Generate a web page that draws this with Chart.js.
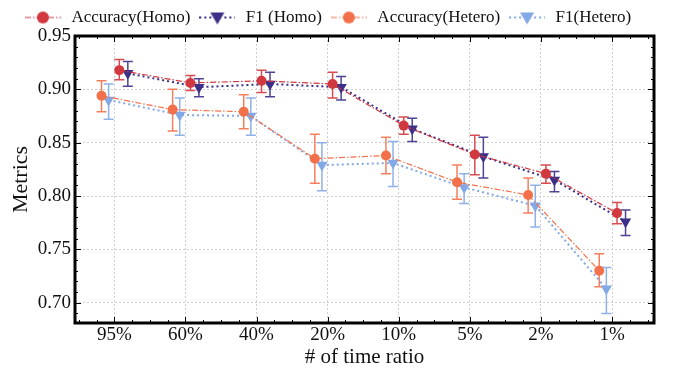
<!DOCTYPE html>
<html>
<head>
<meta charset="utf-8">
<script src="https://cdn.jsdelivr.net/npm/chart.js@4"></script>
<style>
  html, body { margin: 0; padding: 0; background: #fff; }
  #wrap { width: 686px; height: 372px; }
</style>
</head>
<body>
<div id="wrap"><canvas id="metricsChart"></canvas></div>
<script>
const categories = ['95%', '60%', '40%', '20%', '10%', '5%', '2%', '1%'];
const yTicks = [0.70, 0.75, 0.80, 0.85, 0.90, 0.95];

const accHomo   = [0.918, 0.906, 0.908, 0.905, 0.866, 0.839, 0.821, 0.784];
const accHomoHi = [0.928, 0.913, 0.918, 0.916, 0.874, 0.857, 0.829, 0.794];
const accHomoLo = [0.909, 0.899, 0.897, 0.892, 0.858, 0.820, 0.812, 0.774];

const f1Homo   = [0.915, 0.902, 0.905, 0.902, 0.863, 0.837, 0.815, 0.776];
const f1HomoHi = [0.926, 0.910, 0.916, 0.912, 0.873, 0.855, 0.823, 0.787];
const f1HomoLo = [0.903, 0.893, 0.893, 0.890, 0.851, 0.817, 0.804, 0.763];

const accHetero   = [0.894, 0.881, 0.879, 0.835, 0.838, 0.813, 0.801, 0.730];
const accHeteroHi = [0.908, 0.900, 0.895, 0.858, 0.855, 0.829, 0.817, 0.746];
const accHeteroLo = [0.879, 0.861, 0.863, 0.812, 0.821, 0.797, 0.784, 0.715];

const f1Hetero   = [0.890, 0.876, 0.875, 0.829, 0.831, 0.808, 0.791, 0.713];
const f1HeteroHi = [0.905, 0.892, 0.892, 0.850, 0.851, 0.821, 0.810, 0.733];
const f1HeteroLo = [0.872, 0.857, 0.857, 0.805, 0.809, 0.793, 0.771, 0.690];

const FONT = "'Liberation Serif', 'DejaVu Serif', serif";

// small legend sample: line + marker
function legendSample(color, dash, lineWidth, marker) {
    const c = document.createElement('canvas');
    c.width = 36; c.height = 16;
    const ctx = c.getContext('2d');
    ctx.strokeStyle = color;
    ctx.lineWidth = lineWidth;
    ctx.setLineDash(dash);
    ctx.beginPath();
    ctx.moveTo(0, 8); ctx.lineTo(36, 8);
    ctx.stroke();
    ctx.setLineDash([]);
    ctx.fillStyle = color;
    ctx.beginPath();
    if (marker === 'circle') {
        ctx.arc(18, 8, 6, 0, Math.PI * 2);
    } else {
        ctx.moveTo(11, 3); ctx.lineTo(25, 3); ctx.lineTo(18, 15);
        ctx.closePath();
    }
    ctx.fill();
    return c;
}

function series(label, values, hi, lo, offset, color, dash, lineWidth, marker) {
    return {
        label: label,
        data: values.map((v, i) => ({x: i + offset, y: v})),
        errHi: hi,
        errLo: lo,
        borderColor: color,
        backgroundColor: color,
        borderWidth: lineWidth,
        borderDash: dash,
        pointStyle: marker === 'circle' ? 'circle' : 'triangle',
        pointRotation: marker === 'circle' ? 0 : 180,
        pointRadius: marker === 'circle' ? 5 : 6.5,
        pointBorderWidth: 0,
        legendImg: legendSample(color, dash, lineWidth, marker),
        tension: 0,
        fill: false
    };
}

const errorBars = {
    id: 'errorBars',
    beforeDatasetsDraw(chart) {
        const ctx = chart.ctx;
        const yScale = chart.scales.y;
        chart.data.datasets.forEach((ds, di) => {
            const meta = chart.getDatasetMeta(di);
            ctx.save();
            ctx.strokeStyle = ds.borderColor;
            ctx.globalAlpha = 0.9;
            ctx.lineWidth = 1.5;
            meta.data.forEach((pt, i) => {
                const top = yScale.getPixelForValue(ds.errHi[i]);
                const bot = yScale.getPixelForValue(ds.errLo[i]);
                ctx.beginPath();
                ctx.moveTo(pt.x, top); ctx.lineTo(pt.x, bot);
                ctx.moveTo(pt.x - 5, top); ctx.lineTo(pt.x + 5, top);
                ctx.moveTo(pt.x - 5, bot); ctx.lineTo(pt.x + 5, bot);
                ctx.stroke();
            });
            ctx.restore();
        });
    }
};

const frame = {
    id: 'frame',
    afterDraw(chart) {
        const ctx = chart.ctx;
        const a = chart.chartArea;
        const xs = chart.scales.x, ys = chart.scales.y;
        ctx.save();
        ctx.strokeStyle = '#000';
        ctx.lineWidth = 1;
        // inward ticks
        for (let k = 0; k <= 30; k++) {
            const v = 0.68 + k * 0.01;
            if (v < ys.min - 1e-9 || v > ys.max + 1e-9) continue;
            const y = Math.round(ys.getPixelForValue(v)) + 0.5;
            const len = (Math.round(v * 100) % 5 === 0) ? 6 : 3;
            ctx.beginPath();
            ctx.moveTo(a.left, y); ctx.lineTo(a.left + len, y);
            ctx.moveTo(a.right, y); ctx.lineTo(a.right - len, y);
            ctx.stroke();
        }
        for (let k = -4; k <= 32; k++) {
            const v = k * 0.25;
            if (v < xs.min || v > xs.max) continue;
            const x = Math.round(xs.getPixelForValue(v)) + 0.5;
            const len = (k % 4 === 0) ? 6 : 3;
            ctx.beginPath();
            ctx.moveTo(x, a.bottom); ctx.lineTo(x, a.bottom - len);
            ctx.moveTo(x, a.top); ctx.lineTo(x, a.top + len);
            ctx.stroke();
        }
        ctx.lineWidth = 3;
        ctx.strokeRect(a.left, a.top, a.right - a.left, a.bottom - a.top);
        ctx.restore();
    }
};

new Chart('metricsChart', {
    type: 'line',
    data: {
        datasets: [
            series('Accuracy(Homo)', accHomo, accHomoHi, accHomoLo, 0.07, '#d1383f', [6, 2, 1.5, 2], 1.2, 'circle'),
            series('F1 (Homo)', f1Homo, f1HomoHi, f1HomoLo, 0.19, '#3b2f88', [2, 3], 2, 'triangle'),
            series('Accuracy(Hetero)', accHetero, accHeteroHi, accHeteroLo, -0.18, '#f3714a', [6, 2, 1.5, 2], 1.2, 'circle'),
            series('F1(Hetero)', f1Hetero, f1HeteroHi, f1HeteroLo, -0.08, '#82a8e6', [2, 3], 2, 'triangle')
        ]
    },
    options: {
        responsive: true,
        maintainAspectRatio: false,
        animation: false,
        layout: { padding: { left: 0, right: 32, top: 2, bottom: 0 } },
        plugins: {
            tooltip: { enabled: false },
            legend: {
                position: 'top',
                labels: {
                    usePointStyle: true,
                    pointStyleWidth: 40,
                    boxHeight: 16,
                    padding: 7,
                    color: '#111',
                    font: { family: FONT, size: 17 },
                    generateLabels(chart) {
                        return chart.data.datasets.map((ds, i) => ({
                            text: ds.label,
                            pointStyle: ds.legendImg,
                            rotation: 0,
                            fillStyle: ds.borderColor,
                            strokeStyle: ds.borderColor,
                            lineWidth: 0,
                            fontColor: '#111',
                            hidden: false,
                            datasetIndex: i
                        }));
                    }
                }
            }
        },
        scales: {
            x: {
                type: 'linear',
                min: -0.553,
                max: 7.59,
                afterFit(scale) { scale.height = 49; },
                afterBuildTicks(scale) {
                    scale.ticks = categories.map((c, i) => ({value: i}));
                },
                ticks: {
                    color: '#111',
                    padding: 1,
                    font: { family: FONT, size: 19 },
                    callback: v => categories[v]
                },
                grid: { color: '#cfcfcf', lineWidth: 1, drawTicks: false },
                border: { display: false, dash: [2, 2] },
                title: {
                    display: true,
                    text: '# of time ratio',
                    color: '#111',
                    padding: { top: 0, bottom: 2 },
                    font: { family: FONT, size: 21 }
                }
            },
            y: {
                min: 0.681,
                max: 0.95,
                afterFit(scale) { scale.width = 75; },
                afterBuildTicks(scale) {
                    scale.ticks = yTicks.map(v => ({value: v}));
                },
                ticks: {
                    color: '#111',
                    padding: 4,
                    font: { family: FONT, size: 19 },
                    callback: v => v.toFixed(2)
                },
                grid: { color: '#cfcfcf', lineWidth: 1, drawTicks: false },
                border: { display: false, dash: [2, 2] },
                title: {
                    display: true,
                    text: 'Metrics',
                    color: '#111',
                    padding: { top: 8, bottom: 0 },
                    font: { family: FONT, size: 22 }
                }
            }
        }
    },
    plugins: [errorBars, frame]
});
</script>
</body>
</html>
